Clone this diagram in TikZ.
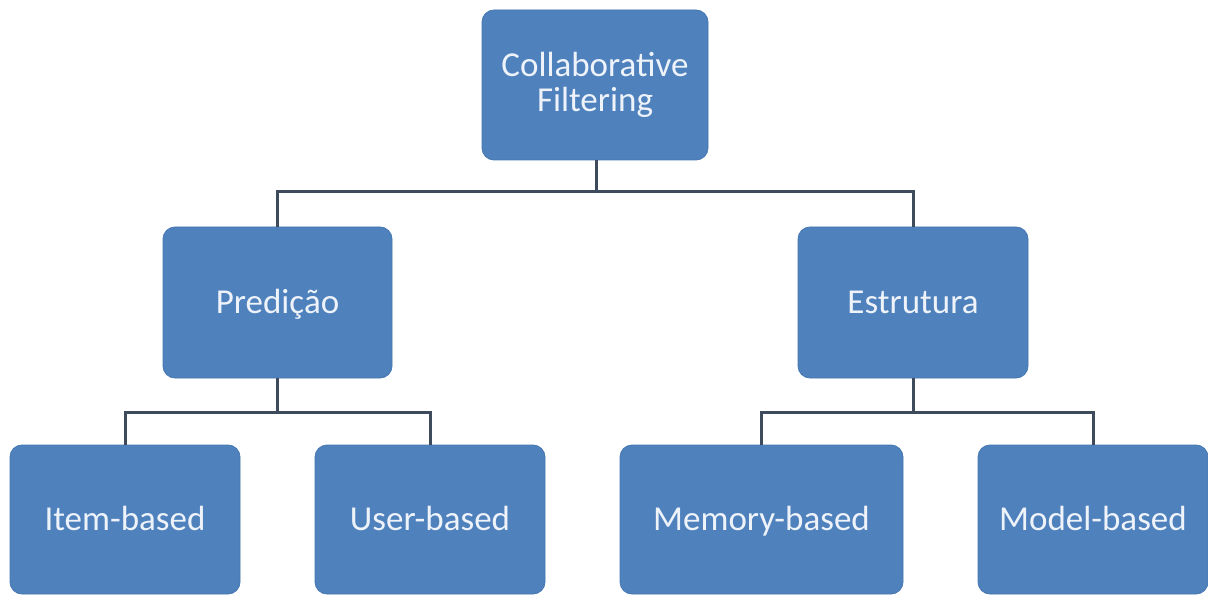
\documentclass[tikz,border=0pt]{standalone}
\usepackage{fontspec}
\setmainfont{Carlito}
\definecolor{boxblue}{HTML}{4F81BD}
\definecolor{boxedge}{HTML}{4677B2}
\definecolor{linecol}{HTML}{3E4B5C}
\definecolor{txtcol}{HTML}{EEF3FA}
\begin{document}
\begin{tikzpicture}[x=1pt,y=-1pt,
  box/.style={draw=boxedge, line width=0.8pt, fill=boxblue, rounded corners=12pt,
    text=txtcol, align=center, font=\fontsize{35}{35}\selectfont, inner sep=0pt},
  oneline/.style={box, text height=25pt, text depth=4pt},
  link/.style={draw=linecol, line width=3pt}]
\fill[white] (0,0) rectangle (1208,596);
\useasboundingbox (0,0) rectangle (1208,596);
\node[box, minimum width=226pt, minimum height=150pt] (cf) at (595,85) {Collaborative\\Filtering};
\node[oneline, minimum width=229pt, minimum height=151pt] (pred) at (277.5,302.5) {Predição};
\node[oneline, minimum width=230pt, minimum height=151pt] (est) at (913,302.5) {Estrutura};
\node[oneline, minimum width=230pt, minimum height=149pt] (item) at (125,519.5) {Item-based};
\node[oneline, minimum width=230pt, minimum height=149pt] (user) at (430,519.5) {User-based};
\node[oneline, minimum width=283pt, minimum height=149pt] (mem) at (761.5,519.5) {Memory-based};
\node[oneline, minimum width=230pt, minimum height=149pt] (model) at (1093,519.5) {Model-based};
\coordinate (j1) at (596,192);
\coordinate (j2) at (277.5,412);
\coordinate (j3) at (913,412);
\draw[link] (cf.south -| j1) -- (j1);
\draw[link] (pred.north) |- (j1) -| (est.north);
\draw[link] (pred.south) -- (j2);
\draw[link] (item.north) |- (j2) -| (user.north);
\draw[link] (est.south) -- (j3);
\draw[link] (mem.north) |- (j3) -| (model.north);
\end{tikzpicture}
\end{document}
